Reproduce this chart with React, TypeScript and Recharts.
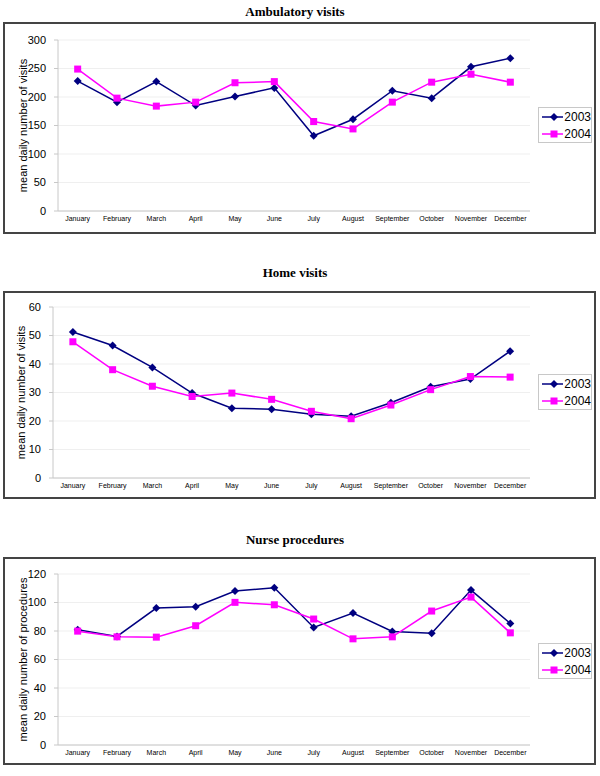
import React from "react"
import { LineChart, Line, XAxis, YAxis, CartesianGrid, Legend } from "recharts"

const months = [
  "January", "February", "March", "April", "May", "June",
  "July", "August", "September", "October", "November", "December",
]

const ambulatory2003 = [228, 191, 227, 185, 201, 216, 132, 161, 211, 198, 253, 268]
const ambulatory2004 = [249, 198, 184, 191, 225, 227, 157, 144, 191, 226, 240, 226]

const home2003 = [51.2, 46.5, 38.8, 29.8, 24.5, 24.1, 22.4, 21.7, 26.4, 32.0, 34.7, 44.5]
const home2004 = [47.8, 38.0, 32.2, 28.6, 29.8, 27.6, 23.4, 20.8, 25.6, 31.0, 35.6, 35.4]

const nurse2003 = [80.9, 76.2, 96.1, 97.0, 108.0, 110.4, 82.5, 92.6, 79.7, 78.5, 108.7, 85.3]
const nurse2004 = [79.9, 75.9, 75.7, 83.7, 100.1, 98.4, 88.4, 74.5, 75.9, 94.0, 103.8, 78.7]

const ambulatoryTicks = [0, 50, 100, 150, 200, 250, 300]
const homeTicks = [0, 10, 20, 30, 40, 50, 60]
const nurseTicks = [0, 20, 40, 60, 80, 100, 120]

const NAVY = "#000080"
const MAGENTA = "#ff00ff"
const SANS = "'Liberation Sans', Arial, sans-serif"
const SERIF = "'Liberation Serif', 'Times New Roman', serif"

function Diamond(props: any) {
  const { cx, cy, index } = props
  if (cx == null || cy == null) return <g key={index} />
  return (
    <path
      key={index}
      d={`M${cx},${cy - 4}L${cx + 4},${cy}L${cx},${cy + 4}L${cx - 4},${cy}Z`}
      fill={NAVY}
    />
  )
}

function Square(props: any) {
  const { cx, cy, index } = props
  if (cx == null || cy == null) return <g key={index} />
  return <rect key={index} x={cx - 3.5} y={cy - 3.5} width={7} height={7} fill={MAGENTA} />
}

function LegendBox() {
  const row = (label: string, color: string, diamond: boolean) => (
    <div style={{ display: "flex", alignItems: "center", height: 17 }}>
      <svg width={26} height={10} style={{ marginLeft: 3 }}>
        <line x1={0} y1={5} x2={24} y2={5} stroke={color} strokeWidth={1.5} />
        {diamond ? (
          <path d="M12,1L16,5L12,9L8,5Z" fill={color} />
        ) : (
          <rect x={8.5} y={1.5} width={7} height={7} fill={color} />
        )}
      </svg>
      <span style={{ fontFamily: SANS, fontSize: 12, color: "#000", marginLeft: 1 }}>{label}</span>
    </div>
  )
  return (
    <div
      style={{
        width: 54,
        border: "1px solid #c8c8c8",
        background: "#fff",
        padding: "0",
        boxSizing: "border-box",
      }}
    >
      {row("2003", NAVY, true)}
      {row("2004", MAGENTA, false)}
    </div>
  )
}

interface PanelProps {
  title: string
  titleTop: number
  boxTop: number
  boxHeight: number
  yLabel: string
  yWidth: number
  labelDx: number
  marginTop: number
  xHeight: number
  ticks: number[]
  legendTop: number
  s2003: number[]
  s2004: number[]
}

function Panel(p: PanelProps) {
  const data = months.map((m, i) => ({ month: m, y2003: p.s2003[i], y2004: p.s2004[i] }))
  const max = p.ticks[p.ticks.length - 1]
  return (
    <>
      <div
        style={{
          position: "absolute",
          top: p.titleTop,
          left: 0,
          width: 590,
          textAlign: "center",
          fontFamily: SERIF,
          fontWeight: "bold",
          fontSize: 13,
          color: "#000",
        }}
      >
        {p.title}
      </div>
      <div
        style={{
          position: "absolute",
          top: p.boxTop,
          left: 3,
          width: 593,
          height: p.boxHeight,
          border: "2px solid #444",
          boxSizing: "border-box",
        }}
      />
      <div style={{ position: "absolute", top: p.boxTop, left: 0 }}>
        <LineChart
          width={600}
          height={p.boxHeight}
          data={data}
          margin={{ top: p.marginTop, right: 70, left: 0, bottom: 0 }}
        >
          <CartesianGrid vertical={false} stroke="#efefef" />
          <XAxis
            dataKey="month"
            scale="band"
            interval={0}
            height={p.xHeight}
            tickLine={false}
            tickSize={3}
            tickMargin={2}
            axisLine={{ stroke: "#c8c8c8" }}
            tick={{ fontSize: 7, fill: "#000", fontFamily: SANS }}
          />
          <YAxis
            width={p.yWidth}
            domain={[0, max]}
            ticks={p.ticks}
            interval={0}
            tickSize={4}
            tickMargin={8}
            axisLine={{ stroke: "#c8c8c8" }}
            tickLine={{ stroke: "#c8c8c8" }}
            tick={{ fontSize: 11, fill: "#000", fontFamily: SANS }}
            label={{
              value: p.yLabel,
              angle: -90,
              position: "center",
              dx: p.labelDx,
              style: { fontSize: 11, fill: "#000", fontFamily: SANS },
            }}
          />
          <Legend
            layout="vertical"
            align="center"
            verticalAlign="middle"
            wrapperStyle={{ left: 538, top: p.legendTop, width: 56 }}
            content={() => <LegendBox />}
          />
          <Line
            dataKey="y2003"
            name="2003"
            stroke={NAVY}
            strokeWidth={1.5}
            dot={Diamond}
            activeDot={false}
            isAnimationActive={false}
          />
          <Line
            dataKey="y2004"
            name="2004"
            stroke={MAGENTA}
            strokeWidth={1.5}
            dot={Square}
            activeDot={false}
            isAnimationActive={false}
          />
        </LineChart>
      </div>
    </>
  )
}

export default function App() {
  return (
    <div
      style={{
        position: "absolute",
        left: 0,
        top: 0,
        width: 600,
        height: 776,
        background: "#fff",
      }}
    >
      <Panel
        title="Ambulatory visits"
        titleTop={4}
        boxTop={22}
        boxHeight={212}
        yLabel="mean daily number of visits"
        yWidth={58}
        labelDx={-6}
        marginTop={18}
        xHeight={23}
        ticks={ambulatoryTicks}
        legendTop={85}
        s2003={ambulatory2003}
        s2004={ambulatory2004}
      />
      <Panel
        title="Home visits"
        titleTop={265}
        boxTop={291}
        boxHeight={208}
        yLabel="mean daily number of visits"
        yWidth={53}
        labelDx={-5}
        marginTop={16}
        xHeight={21}
        ticks={homeTicks}
        legendTop={83}
        s2003={home2003}
        s2004={home2004}
      />
      <Panel
        title="Nurse procedures"
        titleTop={532}
        boxTop={557}
        boxHeight={208}
        yLabel="mean daily number of procedures"
        yWidth={58}
        labelDx={-6}
        marginTop={17}
        xHeight={20}
        ticks={nurseTicks}
        legendTop={86}
        s2003={nurse2003}
        s2004={nurse2004}
      />
    </div>
  )
}
